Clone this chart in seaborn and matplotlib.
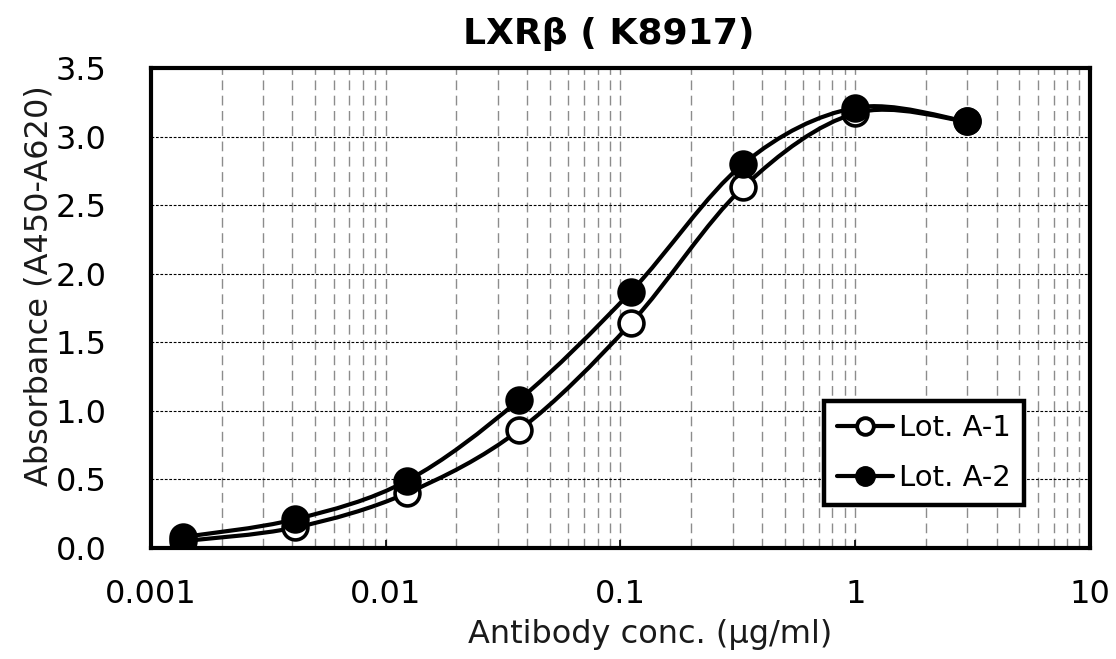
import numpy as np
import pandas as pd
import matplotlib
matplotlib.use("Agg")
import matplotlib.pyplot as plt
import seaborn as sns
from matplotlib.path import Path
from matplotlib.patches import PathPatch
from matplotlib.lines import Line2D
from matplotlib.ticker import FixedLocator, FixedFormatter, LogLocator, NullFormatter

# ---- data ----
conc = [0.00137, 0.00412, 0.0123, 0.037, 0.111, 0.333, 1.0, 3.0]
lot_a1 = [0.05, 0.15, 0.40, 0.86, 1.64, 2.63, 3.17, 3.11]
lot_a2 = [0.08, 0.21, 0.49, 1.08, 1.87, 2.80, 3.21, 3.11]
series_names = ["Lot. A-1", "Lot. A-2"]
x_ticks = [0.001, 0.01, 0.1, 1, 10]
x_tick_labels = ["0.001", "0.01", "0.1", "1", "10"]
y_ticks = [0.0, 0.5, 1.0, 1.5, 2.0, 2.5, 3.0, 3.5]
title = "LXRβ ( K8917)"
xlabel = "Antibody conc. (μg/ml)"
ylabel = "Absorbance (A450-A620)"

sns.set_theme(style="white")
plt.rcParams["font.family"] = ["DejaVu Sans"]
plt.rcParams["text.color"] = "black"

fig = plt.figure(figsize=(11.16, 6.59), dpi=100)
ax = fig.add_axes([0.1353, 0.1684, 0.9767 - 0.1353, 0.8968 - 0.1684])
ax.set_xscale("log")
ax.set_xlim(0.001, 10)
ax.set_ylim(0, 3.5)


def smooth_path(xs, ys):
    lx = np.log10(np.asarray(xs, dtype=float))
    yy = np.asarray(ys, dtype=float)
    pts = np.column_stack([lx, yy])
    n = len(pts)
    verts = [pts[0]]
    codes = [Path.MOVETO]
    for i in range(n - 1):
        p0 = pts[i - 1] if i > 0 else pts[i]
        p1 = pts[i]
        p2 = pts[i + 1]
        p3 = pts[i + 2] if i + 2 < n else pts[i + 1]
        c1 = p1 + (p2 - p0) / 6.0
        c2 = p2 - (p3 - p1) / 6.0
        verts += [c1, c2, p2]
        codes += [Path.CURVE4] * 3
    verts = np.array(verts)
    verts[:, 0] = 10 ** verts[:, 0]
    return Path(verts, codes)


df = pd.DataFrame({
    "conc": conc * 2,
    "abs": lot_a1 + lot_a2,
    "lot": [series_names[0]] * len(conc) + [series_names[1]] * len(conc),
})

face_colors = ["white", "black"]
for name, vals, fc in zip(series_names, [lot_a1, lot_a2], face_colors):
    patch = PathPatch(smooth_path(conc, vals), facecolor="none", edgecolor="black",
                      lw=3.0, zorder=3, capstyle="round", joinstyle="round")
    ax.add_patch(patch)
    sub = df[df["lot"] == name]
    sns.scatterplot(data=sub, x="conc", y="abs", ax=ax, marker="o", s=320,
                    color=fc, edgecolor="black", linewidth=2.6, zorder=4, legend=False)

# grid
ax.xaxis.set_major_locator(FixedLocator(x_ticks))
ax.xaxis.set_major_formatter(FixedFormatter(x_tick_labels))
ax.xaxis.set_minor_locator(LogLocator(base=10, subs=np.arange(2, 10)))
ax.xaxis.set_minor_formatter(NullFormatter())
ax.set_yticks(y_ticks)
ax.set_yticklabels([f"{v:.1f}" for v in y_ticks])

ax.grid(which="both", axis="x", color="#8c8c8c", linestyle=(0, (7, 4)), linewidth=1.0)
ax.grid(which="major", axis="y", color="black", linestyle=(0, (2.5, 1.5)), linewidth=0.8)
ax.set_axisbelow(True)

for s in ax.spines.values():
    s.set_visible(True)
    s.set_color("black")
    s.set_linewidth(3)

ax.tick_params(axis="x", which="major", direction="in", length=6, width=1.2,
               pad=22, labelsize=23, colors="black", bottom=True)
ax.tick_params(axis="x", which="minor", length=0)
ax.tick_params(axis="y", length=0, pad=32, labelsize=23, colors="black", left=True)

ax.set_xlabel(xlabel, fontsize=23, color="#1a1a1a")
ax.xaxis.set_label_coords(0.532, -0.148)
ax.set_ylabel(ylabel, fontsize=23, color="#1a1a1a", labelpad=1)
ax.yaxis.label.set_y(0.546)
ax.set_title(title, fontsize=26, fontweight="bold", pad=17, x=0.488, color="black")

handles = [
    Line2D([], [], color="black", lw=3.0, marker="o", markersize=12,
           markerfacecolor="white", markeredgecolor="black", markeredgewidth=2.8),
    Line2D([], [], color="black", lw=3.0, marker="o", markersize=14,
           markerfacecolor="black", markeredgecolor="black"),
]
leg = ax.legend(handles, series_names, loc="upper left", bbox_to_anchor=(0.717, 0.306),
                borderaxespad=0, fontsize=21, handlelength=1.9, handletextpad=0.2,
                fancybox=False, framealpha=1, edgecolor="black", labelspacing=0.75,
                borderpad=0.45)
leg.get_frame().set_linewidth(3.2)
leg.set_zorder(10)
for t in leg.get_texts():
    t.set_color("black")

fig.savefig("out.png", dpi=100)
